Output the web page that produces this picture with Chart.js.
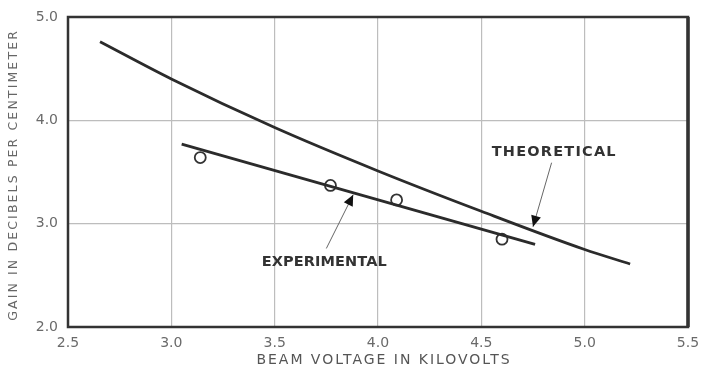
<!DOCTYPE html>
<html>
<head>
<meta charset="utf-8">
<script src="https://cdn.jsdelivr.net/npm/chart.js@4/dist/chart.umd.min.js"></script>
<style>
  html, body { margin: 0; padding: 0; background: #fff; }
  #wrap { width: 703px; height: 370px; position: relative; }
</style>
</head>
<body>
<div id="wrap"><canvas id="c" width="703" height="370"></canvas></div>
<script>
// Beam voltage (kV) vs. gain (dB/cm)
const theoreticalX = [2.655, 3.0, 3.5, 4.0, 4.5, 5.0, 5.22];
const theoreticalY = [4.76, 4.40, 3.93, 3.51, 3.12, 2.75, 2.61];
const experimentalX = [3.05, 4.76];
const experimentalY = [3.77, 2.80];
const measuredX = [3.14, 3.77, 4.09, 4.60];
const measuredY = [3.64, 3.37, 3.23, 2.85];
const xTicks = [2.5, 3.0, 3.5, 4.0, 4.5, 5.0, 5.5];
const yTicks = [2.0, 3.0, 4.0, 5.0];

const xTitle = 'BEAM VOLTAGE IN KILOVOLTS';
const yTitle = 'GAIN IN DECIBELS PER CENTIMETER';

// Callout labels: text, text anchor, arrow tail, arrow head (data units)
const calloutText = ['THEORETICAL', 'EXPERIMENTAL'];
const calloutAt = [[4.85, 3.69], [3.74, 2.63]];
const arrowFrom = [[4.84, 3.59], [3.75, 2.76]];
const arrowTo = [[4.75, 2.97], [3.88, 3.28]];

const ink = '#2b2b2b';
const gray = '#6a6a6a';

const toPts = (xs, ys) => xs.map((x, i) => ({ x, y: ys[i] }));

// Spread a string to a given width using letter spacing
function spacedText(ctx, text, cx, cy, width) {
  if ('letterSpacing' in ctx) {
    ctx.letterSpacing = '0px';
    const w = ctx.measureText(text).width;
    const sp = Math.max(0, (width - w) / text.length);
    ctx.letterSpacing = sp.toFixed(2) + 'px';
    ctx.fillText(text, cx + sp / 2, cy);
  } else {
    ctx.fillText(text, cx, cy);
  }
}

const axisTitles = {
  id: 'axisTitles',
  afterDraw(chart) {
    const { ctx, chartArea: a } = chart;
    ctx.save();
    ctx.textAlign = 'center';
    ctx.textBaseline = 'middle';
    ctx.fillStyle = '#555';
    ctx.font = '14px "DejaVu Sans"';
    spacedText(ctx, xTitle, (a.left + a.right) / 2 + 5, 360, 255);
    ctx.translate(14, 176);
    ctx.rotate(-Math.PI / 2);
    ctx.fillStyle = '#666';
    ctx.font = '12.5px "DejaVu Sans"';
    spacedText(ctx, yTitle, 0, 0, 292);
    ctx.restore();
  }
};

const callouts = {
  id: 'callouts',
  afterDatasetsDraw(chart) {
    const { ctx, scales: { x, y } } = chart;
    ctx.save();
    ctx.font = 'bold 14.5px "DejaVu Sans"';
    ctx.textAlign = 'center';
    ctx.textBaseline = 'middle';
    calloutText.forEach((t, i) => {
      ctx.fillStyle = '#333';
      spacedText(ctx, t, x.getPixelForValue(calloutAt[i][0]), y.getPixelForValue(calloutAt[i][1]), 125);
      const x0 = x.getPixelForValue(arrowFrom[i][0]), y0 = y.getPixelForValue(arrowFrom[i][1]);
      const x1 = x.getPixelForValue(arrowTo[i][0]), y1 = y.getPixelForValue(arrowTo[i][1]);
      ctx.strokeStyle = '#666';
      ctx.lineWidth = 1;
      ctx.beginPath(); ctx.moveTo(x0, y0); ctx.lineTo(x1, y1); ctx.stroke();
      const a = Math.atan2(y1 - y0, x1 - x0), L = 11, W = 5;
      ctx.fillStyle = '#111';
      ctx.beginPath();
      ctx.moveTo(x1, y1);
      ctx.lineTo(x1 - L * Math.cos(a) + W * Math.sin(a), y1 - L * Math.sin(a) - W * Math.cos(a));
      ctx.lineTo(x1 - L * Math.cos(a) - W * Math.sin(a), y1 - L * Math.sin(a) + W * Math.cos(a));
      ctx.closePath(); ctx.fill();
    });
    ctx.restore();
  }
};

const frame = {
  id: 'frame',
  afterDraw(chart) {
    const { ctx, chartArea: a } = chart;
    ctx.save();
    ctx.strokeStyle = '#333';
    ctx.lineWidth = 2.5;
    ctx.strokeRect(a.left, a.top, a.right - a.left, a.bottom - a.top);
    ctx.lineWidth = 3.5;
    ctx.beginPath(); ctx.moveTo(a.right, a.top); ctx.lineTo(a.right, a.bottom); ctx.stroke();
    ctx.restore();
  }
};

new Chart(document.getElementById('c'), {
  type: 'scatter',
  data: {
    datasets: [
      {
        label: 'Theoretical',
        data: toPts(theoreticalX, theoreticalY),
        showLine: true, borderColor: ink, borderWidth: 2.8,
        cubicInterpolationMode: 'monotone',
        pointRadius: 0, fill: false
      },
      {
        label: 'Experimental',
        data: toPts(experimentalX, experimentalY),
        showLine: true, borderColor: ink, borderWidth: 2.8,
        pointRadius: 0, fill: false
      },
      {
        label: 'Measured',
        data: toPts(measuredX, measuredY),
        showLine: false, pointRadius: 5.5, pointBorderWidth: 1.8,
        pointBorderColor: '#333', pointBackgroundColor: '#fff'
      }
    ]
  },
  options: {
    responsive: false,
    animation: false,
    layout: { padding: { top: 17, right: 15, left: 0, bottom: 0 } },
    plugins: { legend: { display: false }, tooltip: { enabled: false } },
    scales: {
      x: {
        type: 'linear', min: 2.5, max: 5.5,
        afterBuildTicks: s => { s.ticks = xTicks.map(v => ({ value: v })); },
        afterFit: s => { s.height = 43; s.paddingLeft = 0; s.paddingRight = 0; },
        grid: { color: '#bdbdbd', lineWidth: 1.2, drawTicks: false },
        border: { display: false },
        ticks: {
          color: gray, padding: 8,
          font: { family: '"DejaVu Sans"', size: 14 },
          callback: v => v.toFixed(1)
        }
      },
      y: {
        type: 'linear', min: 2.0, max: 5.0,
        afterBuildTicks: s => { s.ticks = yTicks.map(v => ({ value: v })); },
        afterFit: s => { s.width = 68; s.paddingTop = 0; s.paddingBottom = 0; },
        grid: { color: '#bdbdbd', lineWidth: 1.2, drawTicks: false },
        border: { display: false },
        ticks: {
          color: gray, padding: 10,
          font: { family: '"DejaVu Sans"', size: 14 },
          callback: v => v.toFixed(1)
        }
      }
    }
  },
  plugins: [callouts, frame, axisTitles]
});
</script>
</body>
</html>
